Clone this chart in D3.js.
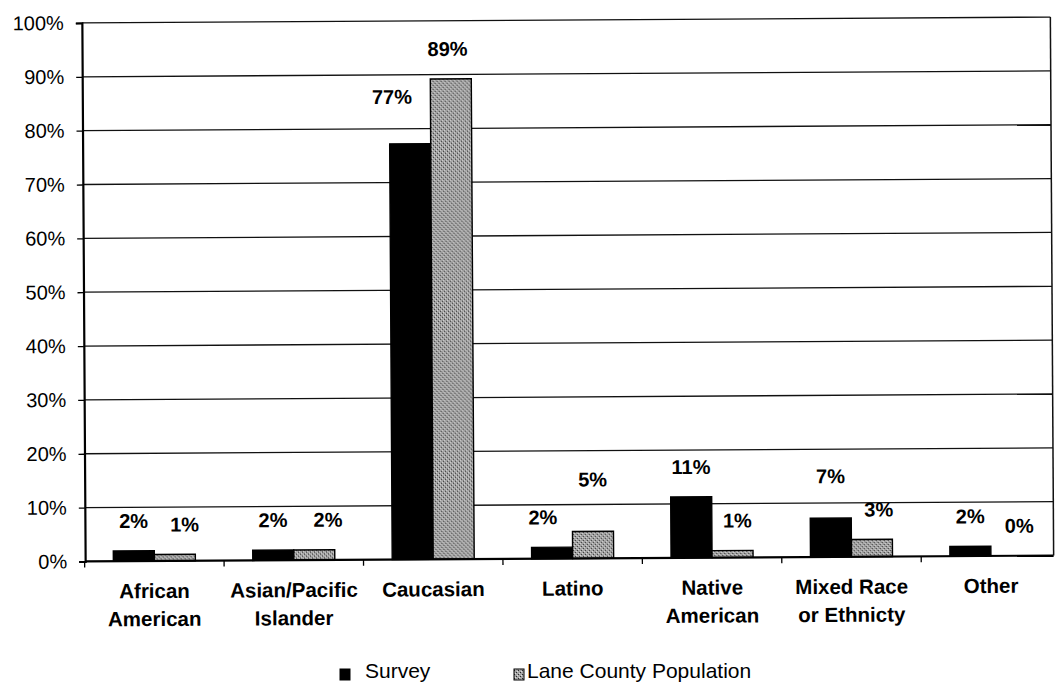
<!DOCTYPE html>
<html><head><meta charset="utf-8">
<script src="https://cdn.jsdelivr.net/npm/d3@7"></script>
<style>
body{margin:0;background:#fff}
svg{display:block}
text{font-family:Arial,"Liberation Sans",sans-serif;fill:#000}
</style>
</head><body><svg id="c" width="1057" height="686"></svg>
<script>
// ---- data ----
const categories = ["African\nAmerican", "Asian/Pacific\nIslander", "Caucasian", "Latino", "Native\nAmerican", "Mixed Race\nor Ethnicty", "Other"];
const seriesNames = ["Survey", "Lane County Population"];
const survey = [1.9, 1.9, 77.2, 2.1, 11.3, 7.2, 1.8];
const lane   = [1.2, 1.9, 89.2, 5.0, 1.3, 3.2, 0];
const yTicks = [0, 10, 20, 30, 40, 50, 60, 70, 80, 90, 100];

// ---- layout (label nudges reproduce the original's odd label placement) ----
const nudgeSurvey = [[0,0],[0,0],[-18,-17],[-9,0],[0,0],[0,-12],[0,0]];
const nudgeLane   = [[10,0],[14,0],[-3,0],[0,-22],[5,0],[7,0],[8,0]];

const W = 1057, H = 686;
const L = 83.5, R = 1052, T = 20, B = 558.5;

const svg = d3.select("#c");
const defs = svg.append("defs");
const pat = defs.append("pattern").attr("id","dots").attr("width",4).attr("height",4)
  .attr("patternUnits","userSpaceOnUse");
pat.append("rect").attr("width",4).attr("height",4).attr("fill","#a4a4a4");
[[0,0],[2,2],[1,3],[3,1]].forEach((p,i)=>pat.append("rect").attr("x",p[0]).attr("y",p[1])
  .attr("width",1).attr("height",1).attr("fill", i<2 ? "#2a2a2a" : "#e0e0e0"));

svg.append("rect").attr("width",W).attr("height",H).attr("fill","#fff");
const g = svg.append("g").attr("transform","rotate(-0.35,568,290)");

const x0 = d3.scaleBand().domain(categories).range([L - 0.5, 1059]).padding(0);
const x1 = d3.scaleBand().domain(seriesNames).range([0, x0.bandwidth()]).paddingInner(0).paddingOuter(0.7);
const y = d3.scaleLinear().domain([0, 100]).range([B, T]);

// gridlines
g.append("g").selectAll("line").data(yTicks.filter(d=>d>0)).join("line")
  .attr("x1", L).attr("x2", R).attr("y1", d=>y(d)).attr("y2", d=>y(d))
  .attr("stroke","#111").attr("stroke-width",1.3);

// right border
g.append("line").attr("x1",R).attr("x2",R).attr("y1",y(100)).attr("y2",y(0))
  .attr("stroke","#111").attr("stroke-width",1.5);

// y axis
const yAxis = d3.axisLeft(y).tickValues(yTicks).tickFormat(d=>d+"%").tickSize(6).tickPadding(12);
const ya = g.append("g").attr("transform",`translate(${L},0)`).call(yAxis);
ya.select(".domain").attr("stroke","#000").attr("stroke-width",2.2);
ya.selectAll(".tick line").attr("stroke","#000").attr("stroke-width",1.3);
ya.selectAll(".tick text").attr("font-size",20).attr("font-family","Arial, 'Liberation Sans', sans-serif").attr("fill","#000");

// bars
const data = categories.map((c,i)=>({c, vals:[
  {s:seriesNames[0], v:survey[i], n:nudgeSurvey[i]},
  {s:seriesNames[1], v:lane[i], n:nudgeLane[i]}]}));
const grp = g.append("g").selectAll("g").data(data).join("g")
  .attr("transform", d=>`translate(${x0(d.c)},0)`);
grp.selectAll("rect").data(d=>d.vals).join("rect")
  .attr("x", d=>x1(d.s)).attr("width", x1.bandwidth())
  .attr("y", d=>y(d.v)).attr("height", d=>y(0)-y(d.v))
  .attr("fill", d=>d.s===seriesNames[0] ? "#000" : "url(#dots)")
  .attr("stroke","#000").attr("stroke-width", d=>d.v>0?1.4:0);
grp.selectAll("text").data(d=>d.vals).join("text")
  .attr("x", d=>x1(d.s)+x1.bandwidth()/2 + d.n[0])
  .attr("y", d=>y(d.v) - 23 + d.n[1])
  .attr("text-anchor","middle").attr("font-size",20).attr("font-weight","bold")
  .text(d=>Math.round(d.v)+"%");

// x axis
g.append("line").attr("x1",L).attr("x2",R).attr("y1",y(0)).attr("y2",y(0))
  .attr("stroke","#000").attr("stroke-width",2.2);
const bounds = categories.map(c=>x0(c)).filter(v=>v<=R);
g.append("g").selectAll("line").data(bounds).join("line")
  .attr("x1",d=>d).attr("x2",d=>d).attr("y1",y(0)).attr("y2",y(0)+6)
  .attr("stroke","#000").attr("stroke-width",1.3);
const cl = g.append("g").selectAll("text").data(categories).join("text")
  .attr("x", d=>x0(d)+x0.bandwidth()/2).attr("y", y(0)+37)
  .attr("text-anchor","middle").attr("font-size",20.5).attr("font-weight","bold");
cl.selectAll("tspan").data(d=>d.split("\n")).join("tspan")
  .attr("x", function(){return this.parentNode.getAttribute("x");})
  .attr("dy",(d,i)=>i===0?0:28).text(d=>d);

// legend
const legX = [340, 514];
const legTX = [365, 527];
const leg = svg.append("g").selectAll("g").data(seriesNames).join("g");
leg.append("rect").attr("x",(d,i)=>legX[i]).attr("y",669).attr("width",10).attr("height",11)
  .attr("fill",(d,i)=>i===0?"#000":"url(#dots)").attr("stroke","#000").attr("stroke-width",1);
leg.append("text").attr("x",(d,i)=>legTX[i]).attr("y",678).attr("font-size",21).text(d=>d);
</script>
</body></html>
